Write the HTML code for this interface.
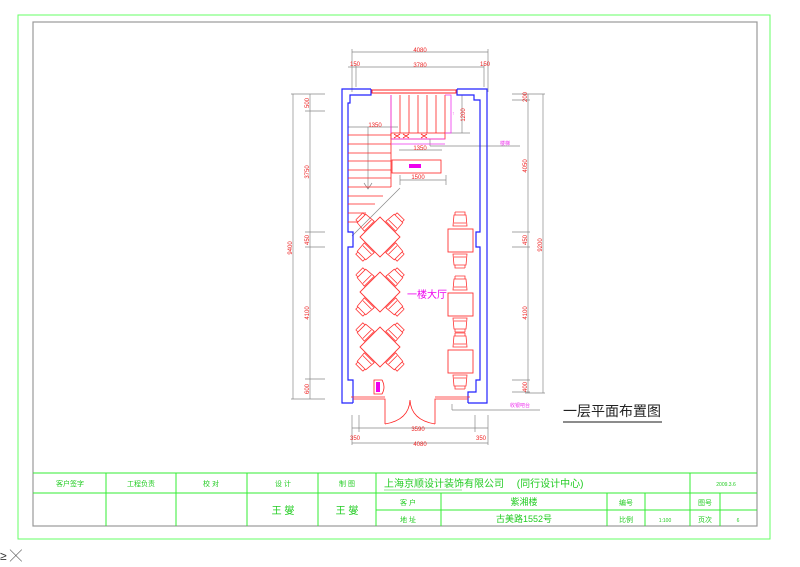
<!DOCTYPE html>
<html><head><meta charset="utf-8"><style>
html,body{margin:0;padding:0;background:#fff}
svg{display:block}
text{font-family:"Liberation Sans","Noto Sans CJK SC",sans-serif}
</style></head><body>
<svg width="800" height="567" viewBox="0 0 800 567" xmlns="http://www.w3.org/2000/svg">
<defs>
<g id="ch"><path d="M-6,-5 L6,-5 L7,6 L-7,6 Z M-5,-8 L5,-8 L5,-5 M-5,-8 L-5,-5 M-6,3 L6,3" fill="none" stroke="#f33" stroke-width="0.8"/></g>
<g id="dt">
<path d="M0,-20 L20,0 L0,20 L-20,0 Z" fill="none" stroke="#f33" stroke-width="0.9"/>
<use href="#ch" transform="translate(-15,-15) rotate(-45)"/>
<use href="#ch" transform="translate(15,-15) rotate(45)"/>
<use href="#ch" transform="translate(-15,15) rotate(-135)"/>
<use href="#ch" transform="translate(15,15) rotate(135)"/>
</g>
<g id="st">
<rect x="-12" y="-11" width="25" height="23" fill="none" stroke="#f33" stroke-width="0.9"/>
<use href="#ch" transform="translate(0,-20)"/>
<use href="#ch" transform="translate(0,20) rotate(180)"/>
</g>
</defs>
<!-- frames -->
<rect x="18" y="15" width="752" height="524" fill="none" stroke="#6f6" stroke-width="1"/>
<rect x="33" y="22" width="724" height="504" fill="none" stroke="#999" stroke-width="1.2"/>
<!-- title block -->
<g stroke="#3e3" stroke-width="1" fill="none">
<line x1="33" y1="473" x2="757" y2="473"/>
<line x1="33" y1="493" x2="757" y2="493"/>
<line x1="376" y1="510" x2="757" y2="510"/>
<line x1="106" y1="473" x2="106" y2="526"/>
<line x1="176" y1="473" x2="176" y2="526"/>
<line x1="247" y1="473" x2="247" y2="526"/>
<line x1="318" y1="473" x2="318" y2="526"/>
<line x1="376" y1="473" x2="376" y2="526"/>
<line x1="441" y1="493" x2="441" y2="526"/>
<line x1="607" y1="493" x2="607" y2="526"/>
<line x1="645" y1="493" x2="645" y2="526"/>
<line x1="690" y1="473" x2="690" y2="526"/>
<line x1="720" y1="493" x2="720" y2="526"/>
</g>
<g fill="#2c2" font-size="7" text-anchor="middle">
<text x="70" y="486">客户签字</text>
<text x="141" y="486">工程负责</text>
<text x="211" y="486">校 对</text>
<text x="283" y="486">设 计</text>
<text x="347" y="486">制 图</text>
<text x="283" y="514" font-size="10">王 燮</text>
<text x="347" y="514" font-size="10">王 燮</text>
<text x="408" y="505">客 户</text>
<text x="408" y="522">地 址</text>
<text x="524" y="505" font-size="9">紫湘楼</text>
<text x="524" y="522" font-size="9">古美路1552号</text>
<text x="626" y="505">编号</text>
<text x="626" y="522">比例</text>
<text x="665" y="522" font-size="5">1:100</text>
<text x="705" y="505">图号</text>
<text x="705" y="522">页次</text>
<text x="738" y="522" font-size="5">6</text>
<text x="726" y="486" font-size="5">2009.3.6</text>
<text x="384" y="487" font-size="10" text-anchor="start">上海京顺设计装饰有限公司 　(同行设计中心)</text>
</g>
<line x1="384" y1="490" x2="462" y2="490" stroke="#2c2" stroke-width="0.6"/>
<!-- dimensions -->
<g stroke="#888" stroke-width="0.7" fill="none">
<line x1="352" y1="52" x2="488" y2="52"/><line x1="352" y1="49" x2="352" y2="92"/><line x1="488" y1="49" x2="488" y2="92"/>
<line x1="348" y1="67" x2="484" y2="67"/><line x1="356" y1="64" x2="356" y2="87"/><line x1="484" y1="64" x2="484" y2="87"/>
<line x1="293" y1="94" x2="293" y2="399"/><line x1="291" y1="94" x2="325" y2="94"/><line x1="291" y1="399" x2="325" y2="399"/>
<line x1="310" y1="94" x2="310" y2="399"/>
<line x1="305" y1="111" x2="325" y2="111"/><line x1="305" y1="232" x2="325" y2="232"/><line x1="305" y1="247" x2="325" y2="247"/><line x1="305" y1="379" x2="325" y2="379"/>
<line x1="543" y1="94" x2="543" y2="393"/><line x1="512" y1="94" x2="545" y2="94"/><line x1="525" y1="393" x2="545" y2="393"/>
<line x1="528" y1="94" x2="528" y2="393"/>
<line x1="512" y1="100" x2="530" y2="100"/><line x1="512" y1="232" x2="530" y2="232"/><line x1="512" y1="247" x2="530" y2="247"/><line x1="512" y1="380" x2="530" y2="380"/><line x1="512" y1="392" x2="530" y2="392"/>
<line x1="352" y1="428" x2="488" y2="428"/><line x1="352" y1="415" x2="352" y2="445"/><line x1="488" y1="415" x2="488" y2="445"/><line x1="475" y1="415" x2="475" y2="432"/><line x1="359" y1="415" x2="359" y2="432"/>
<line x1="352" y1="443" x2="488" y2="443"/>
<line x1="452" y1="404" x2="452" y2="410"/><line x1="452" y1="410" x2="540" y2="410"/>
<line x1="430" y1="146" x2="520" y2="146"/><line x1="430" y1="139" x2="430" y2="146"/>
<line x1="462" y1="95" x2="462" y2="133"/><line x1="445" y1="133" x2="470" y2="133"/>
<line x1="348" y1="127" x2="398" y2="127"/><line x1="368" y1="127" x2="368" y2="188"/>
<path d="M364,183 L368,189 L372,183"/>
<line x1="399" y1="150" x2="442" y2="150"/>
<line x1="400" y1="180" x2="446" y2="180"/><line x1="446" y1="175" x2="446" y2="185"/><line x1="400" y1="175" x2="400" y2="185"/>
<line x1="352" y1="236" x2="400" y2="188"/>
</g>
<g fill="#e22" font-size="6" text-anchor="middle">
<text x="420" y="52">4080</text>
<text x="420" y="67">3780</text>
<text x="355" y="66">150</text><text x="485" y="66">150</text>
<text x="375" y="127">1350</text>
<text x="420" y="150">1350</text>
<text x="418" y="179">1500</text>
<text x="418" y="431">3590</text>
<text x="420" y="446">4080</text>
<text x="355" y="440">350</text><text x="481" y="440">350</text>
<text transform="translate(292,248) rotate(-90)">9400</text>
<text transform="translate(309,103) rotate(-90)">500</text>
<text transform="translate(309,172) rotate(-90)">3750</text>
<text transform="translate(309,240) rotate(-90)">450</text>
<text transform="translate(309,313) rotate(-90)">4100</text>
<text transform="translate(309,389) rotate(-90)">600</text>
<text transform="translate(542,245) rotate(-90)">9200</text>
<text transform="translate(527,97) rotate(-90)">200</text>
<text transform="translate(527,166) rotate(-90)">4050</text>
<text transform="translate(527,240) rotate(-90)">450</text>
<text transform="translate(527,313) rotate(-90)">4100</text>
<text transform="translate(527,387) rotate(-90)">400</text>
<text transform="translate(465,115) rotate(-90)">1200</text>
</g>
<g fill="#e3e" font-size="5"><text x="500" y="145">楼梯</text><text x="510" y="407">收银吧台</text><text x="452" y="115">↑</text></g>
<!-- walls -->
<g stroke="#22f" stroke-width="1.2" fill="none">
<path d="M371,89 L342,89 L342,403 L353,403"/>
<path d="M457,89 L487,89 L487,403 L468,403"/>
<path d="M371,89 L371,95 L350,95 L350,103 L348,103 L348,232 L353,232 L353,247 L348,247 L348,380 L353,380 L353,403"/>
<path d="M457,89 L457,95 L474,95 L474,100 L480,100 L480,232 L476,232 L476,247 L480,247 L480,380 L476,380 L476,392 L468,392 L468,403"/>
</g>
<!-- red architecture -->
<g stroke="#f22" stroke-width="0.8" fill="none">
<rect x="372" y="90" width="84" height="3" stroke-width="1"/>
<path d="M353,399 L385,399 L385,424 M385,424 Q409,420 410,400 M435,424 Q411,420 410,400 M435,424 L435,399 L468,399"/>
<path d="M351,397 L385,397 M435,397 L470,397"/>
<rect x="392" y="160" width="49" height="13"/>
<line x1="391" y1="95" x2="391" y2="133"/><line x1="400" y1="95" x2="400" y2="133"/><line x1="409" y1="95" x2="409" y2="133"/><line x1="418" y1="95" x2="418" y2="133"/><line x1="427" y1="95" x2="427" y2="133"/><line x1="436" y1="95" x2="436" y2="133"/><line x1="445" y1="95" x2="445" y2="133"/>
<rect x="391" y="133" width="54" height="6"/>
<path d="M394,134 L400,138 M400,134 L394,138 M403,134 L409,138 M409,134 L403,138 M421,134 L427,138 M427,134 L421,138"/>
<line x1="391" y1="127" x2="391" y2="187"/>
</g>
<g stroke="#f22" stroke-width="0.8">
<line x1="348" y1="135" x2="391" y2="135"/><line x1="348" y1="144" x2="391" y2="144"/><line x1="348" y1="153" x2="391" y2="153"/><line x1="348" y1="161" x2="391" y2="161"/><line x1="348" y1="170" x2="391" y2="170"/><line x1="348" y1="178" x2="391" y2="178"/><line x1="348" y1="187" x2="391" y2="187"/><line x1="348" y1="196" x2="383" y2="196"/><line x1="348" y1="204" x2="375" y2="204"/><line x1="348" y1="213" x2="366" y2="213"/><line x1="348" y1="222" x2="358" y2="222"/>
</g>
<g stroke="#e3e" stroke-width="0.8" fill="none">
<path d="M391,95 L391,133 M445,95 L451,95 L451,133 L445,133"/>
<line x1="391" y1="144" x2="445" y2="144"/>
<line x1="391" y1="139" x2="445" y2="139"/>
</g>
<rect x="409" y="164" width="12" height="4" fill="#e0e"/>
<!-- furniture -->
<use href="#dt" x="380" y="237"/>
<use href="#dt" x="380" y="292"/>
<use href="#dt" x="380" y="347"/>
<use href="#st" x="460" y="240"/>
<use href="#st" x="460" y="304"/>
<use href="#st" x="460" y="361"/>
<path d="M374,380 L382,380 Q386,387 382,394 L374,394 Z" fill="none" stroke="#f22" stroke-width="0.8"/>
<rect x="376" y="382" width="4" height="10" fill="#e0e"/>
<text x="407" y="298" fill="#e0e" font-size="10" font-family="Liberation Sans,Noto Sans CJK SC,sans-serif">一楼大厅</text>
<!-- title -->
<text x="563" y="416" font-size="14" fill="#222" font-family="Liberation Sans,Noto Sans CJK SC,sans-serif">一层平面布置图</text>
<line x1="563" y1="422" x2="662" y2="422" stroke="#666" stroke-width="1.5"/>
<text x="0" y="560" font-size="12" fill="#333">≥ ╳</text>
</svg>
</body></html>
